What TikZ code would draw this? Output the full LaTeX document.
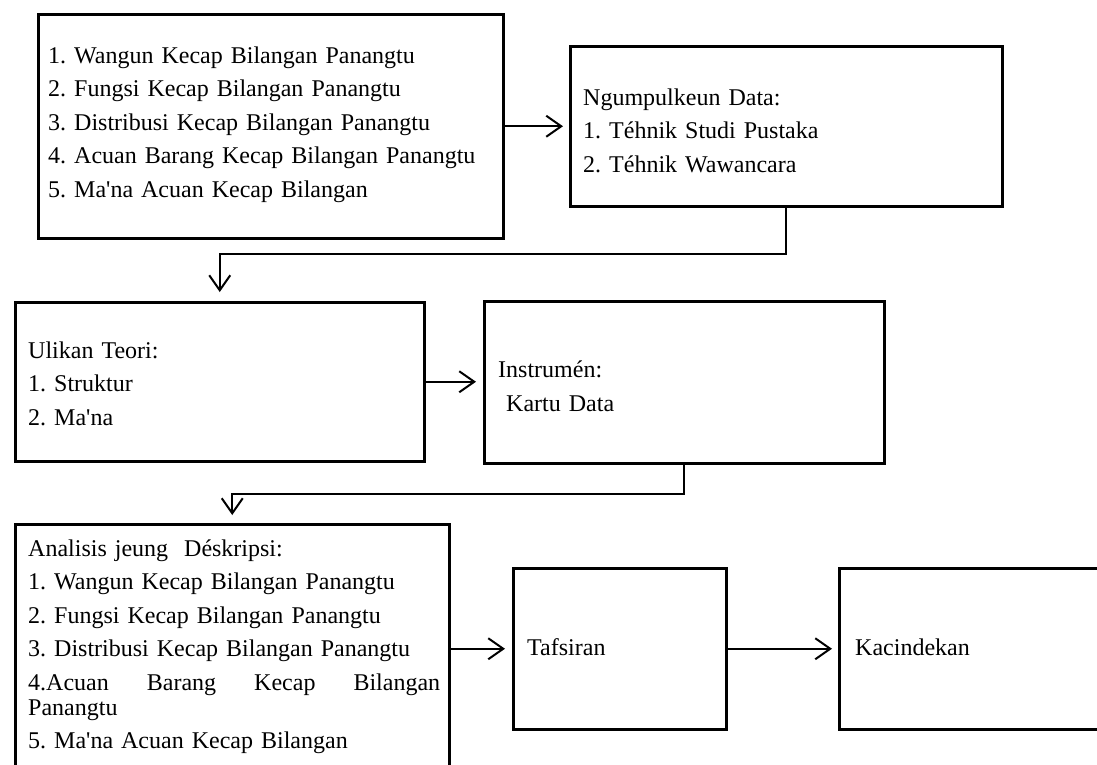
\documentclass[tikz,border=0pt]{standalone}
\usepackage{fontspec}
\setmainfont{Liberation Serif}
\usetikzlibrary{arrows.meta}
\begin{document}
\frenchspacing
\begin{tikzpicture}[x=1pt,y=-1pt,
  box/.style={draw, line width=2.5pt, inner sep=0pt, anchor=north west},
  txt/.style={inner sep=0pt, anchor=north west, align=left,
    font=\fontsize{24}{25}\selectfont\frenchspacing\setlength{\parskip}{8.5pt}\setlength{\parindent}{0pt}},
  arr/.style={line width=2pt, -{Straight Barb[length=15pt,width=21pt]}}
]
\useasboundingbox (0,0) rectangle (1097,764);

% boxes
\node[box, minimum width=465pt, minimum height=224pt] (A) at (37,13) {};
\node[box, minimum width=432pt, minimum height=160pt] (B) at (569,45) {};
\node[box, minimum width=409pt, minimum height=159pt] (C) at (14,301) {};
\node[box, minimum width=400pt, minimum height=162pt] (D) at (483,300) {};
\node[box, minimum width=434pt, minimum height=280pt] (E) at (14,523) {};
\node[box, minimum width=213pt, minimum height=161pt] (F) at (512,567) {};
\node[box, minimum width=290pt, minimum height=161pt] (G) at (838,567) {};

% texts
\node[txt, text width=445pt] (tA) at (48,45.5) {%
\strut 1. Wangun Kecap Bilangan Panangtu\par
\strut 2. Fungsi Kecap Bilangan Panangtu\par
\strut 3. Distribusi Kecap Bilangan Panangtu\par
\strut 4. Acuan Barang Kecap Bilangan Panangtu\par
\strut 5. Ma\textquotesingle na Acuan Kecap Bilangan};
\node[txt, text width=410pt] (tB) at (583,87.5) {%
\strut Ngumpulkeun Data:\par
\strut 1. Téhnik Studi Pustaka\par
\strut 2. Téhnik Wawancara};
\node[txt, text width=390pt] (tC) at (28,340.5) {%
\strut Ulikan Teori:\par
\strut 1. Struktur\par
\strut 2. Ma\textquotesingle na};
\node[txt, text width=380pt] (tD) at (498,360) {%
\strut Instrumén:\par
\strut\ Kartu Data};
\node[txt, text width=412pt] (tE) at (28,538.5) {%
\strut Analisis jeung\ \ Déskripsi:\par
\strut 1. Wangun Kecap Bilangan Panangtu\par
\strut 2. Fungsi Kecap Bilangan Panangtu\par
\strut 3. Distribusi Kecap Bilangan Panangtu\par
\strut\hbox to 412pt{4.Acuan\hfill Barang\hfill Kecap\hfill Bilangan}\\
\strut Panangtu\par
\strut 5. Ma\textquotesingle na Acuan Kecap Bilangan};
\node[txt, text width=190pt] (tF) at (527,637.5) {\strut Tafsiran};
\node[txt, text width=230pt] (tG) at (855,637.5) {\strut Kacindekan};

% connectors
\draw[arr, shorten >=6pt] (A.east) -- (B.west);
\draw[arr, shorten >=9pt] (B.south) -- ++(0,46) -| (C.north);
\draw[arr, shorten >=7pt] (C.east) -- (C.east -| D.west);
\draw[arr, shorten >=8pt] (D.south) -- ++(0,29) -| (E.north);
\draw[arr, shorten >=7pt] (F.west -| E.east) -- (F.west);
\draw[arr, shorten >=6pt] (F.east) -- (G.west);
\end{tikzpicture}
\end{document}
